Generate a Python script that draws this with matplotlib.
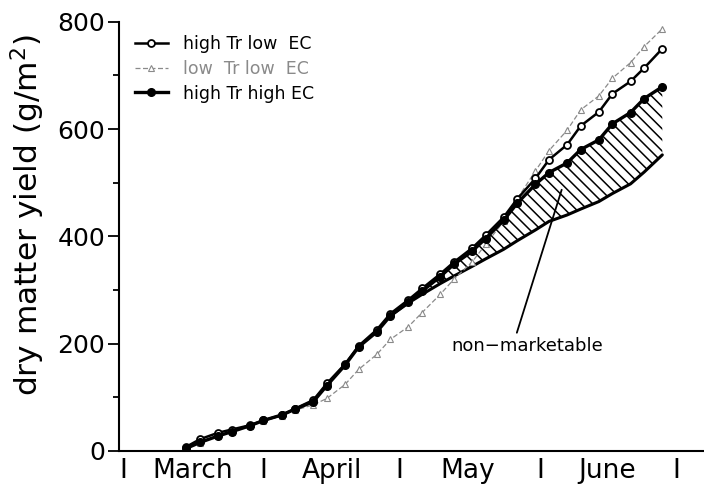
import matplotlib.pyplot as plt
import numpy as np

# sampling days, counted from 28 February (1 = 1 March)
days = [15, 18, 22, 25, 29, 32, 36, 39, 43, 46, 50, 53, 57, 60, 64, 67,
        71, 74, 78, 81, 85, 88, 92, 95, 99, 102, 106, 109, 113, 116, 120]

high_tr_low_ec = [8, 22, 34, 40, 48, 57, 67, 79, 95, 126, 162, 196, 226, 256, 282, 303,
                  330, 352, 378, 402, 436, 470, 508, 543, 571, 606, 632, 666, 689, 714, 750]
low_tr_low_ec = [4, 15, 28, 35, 46, 55, 66, 76, 86, 98, 124, 152, 180, 208, 232, 258,
                 292, 320, 352, 385, 428, 470, 522, 560, 598, 636, 662, 695, 724, 754, 787]
high_tr_high_ec = [5, 16, 28, 36, 47, 57, 67, 78, 92, 122, 160, 194, 222, 252, 278, 298,
                   325, 348, 372, 396, 430, 462, 497, 519, 537, 562, 580, 610, 631, 657, 679]

# marketable part of high Tr high EC, from day 60 on
mk_days = [60, 64, 67, 71, 74, 78, 81, 85, 88, 92, 95, 99, 102, 106, 109, 113, 116, 120]
marketable = [252, 276, 292, 312, 326, 344, 358, 376, 392, 412, 428, 440, 451, 465, 480, 498, 520, 552]

month_bounds = [1, 32, 62, 93, 123]
month_mid = [16.4, 47.1, 77.1, 107.8]
month_names = ['March', 'April', 'May', 'June']

plt.rcParams['hatch.linewidth'] = 1.1

fig = plt.figure(figsize=(7.04, 4.91), dpi=100)
ax = fig.add_axes([0.169, 0.0815, 0.831, 0.874])

hh_mk = [high_tr_high_ec[days.index(d)] for d in mk_days]
ax.fill_between(mk_days, marketable, hh_mk, facecolor='none', edgecolor='black',
                hatch='\\\\\\', linewidth=0)
ax.plot(mk_days, marketable, color='black', lw=2.2, solid_capstyle='round')

ax.plot(days, low_tr_low_ec, color='#8a8a8a', lw=0.9, ls=(0, (4, 2)),
        marker='^', ms=4.5, mfc='white', mec='#8a8a8a', mew=0.8,
        label='low  Tr low  EC')
ax.plot(days, high_tr_low_ec, color='black', lw=1.8,
        marker='o', ms=5, mfc='white', mec='black', mew=1.3,
        label='high Tr low  EC')
ax.plot(days, high_tr_high_ec, color='black', lw=2.4,
        marker='o', ms=5.5, mfc='black', mec='black',
        label='high Tr high EC')

ax.set_xlim(0.12, 129.2)
ax.set_ylim(0, 800)

ax.spines['top'].set_visible(False)
ax.spines['right'].set_visible(False)
ax.spines['left'].set_linewidth(1.5)
ax.spines['bottom'].set_linewidth(1.5)

ax.set_yticks([0, 200, 400, 600, 800])
ax.set_yticks([100, 300, 500, 700], minor=True)
ax.tick_params(axis='y', which='major', length=8, width=1.3, labelsize=18, pad=2)
ax.tick_params(axis='y', which='minor', length=4, width=1.3)

ax.set_xticks(month_bounds, labels=['I'] * len(month_bounds))
ax.set_xticks(month_mid, labels=month_names, minor=True)
ax.tick_params(axis='x', which='both', length=0, labelsize=19, pad=5)

ax.set_ylabel('dry matter yield (g/m$^2$)', fontsize=22.5, va='center')
ax.yaxis.set_label_coords(-0.156, 0.55)

handles, labels = ax.get_legend_handles_labels()
order = [1, 0, 2]
leg = ax.legend([handles[i] for i in order], [labels[i] for i in order],
                loc='upper left', bbox_to_anchor=(0.0, 1.005), frameon=False,
                fontsize=12.5, handlelength=1.9, handletextpad=0.9, labelspacing=0.38)
leg.get_texts()[1].set_color('#8a8a8a')

ax.annotate('non\u2212marketable', xy=(97.8, 487), xytext=(90.3, 196),
            ha='center', va='center', fontsize=13,
            arrowprops=dict(arrowstyle='-', lw=1.3, color='black',
                            relpos=(0.42, 1.0), shrinkA=1, shrinkB=0))

fig.savefig('out.png', dpi=100)
